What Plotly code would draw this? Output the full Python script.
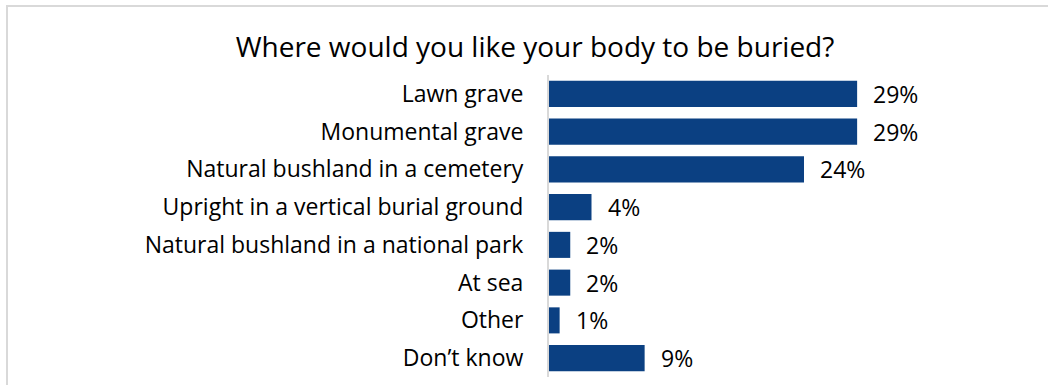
import plotly.graph_objects as go

categories = [
    "Lawn grave",
    "Monumental grave",
    "Natural bushland in a cemetery",
    "Upright in a vertical burial ground",
    "Natural bushland in a national park",
    "At sea",
    "Other",
    "Don\u2019t know",
]
values = [29, 29, 24, 4, 2, 2, 1, 9]
value_labels = [f"{v}%" for v in values]

title_text = "Where would you like your body to be buried?"

W, H = 1048, 385
ML, MR, MT, MB = 549, 74, 75, 8
FONT = "'Open Sans', sans-serif"
BAR_COLOR = "#0B4082"
GRID_GREY = "#D9D9D9"

fig = go.Figure(
    go.Bar(
        y=categories,
        x=values,
        orientation="h",
        marker=dict(color=BAR_COLOR, line=dict(width=0)),
        width=0.69,
        hoverinfo="skip",
    )
)

# value labels just past the end of each bar
for cat, v, lab in zip(categories, values, value_labels):
    fig.add_annotation(
        x=v, y=cat, text=lab, showarrow=False,
        xanchor="left", yanchor="middle", xshift=14,
        font=dict(family=FONT, size=23, color="#000000"),
    )

# light grey frame around the chart (extends past the right and bottom edges)
pw = W - ML - MR
ph = H - MT - MB
def px_to_paper_x(px):
    return (px - ML) / pw
def px_to_paper_y(py):
    return (H - MB - py) / ph

fig.add_shape(
    type="rect", xref="paper", yref="paper",
    x0=px_to_paper_x(7), x1=px_to_paper_x(W + 10),
    y0=px_to_paper_y(H + 10), y1=px_to_paper_y(6),
    line=dict(color=GRID_GREY, width=2), fillcolor="rgba(0,0,0,0)", layer="below",
)

fig.update_layout(
    width=W, height=H,
    margin=dict(l=ML, r=MR, t=MT, b=MB, pad=0),
    paper_bgcolor="white", plot_bgcolor="white",
    showlegend=False,
    title=dict(
        text=title_text, x=535 / W, xref="container", xanchor="center",
        y=1 - 47 / H, yref="container", yanchor="middle",
        font=dict(family=FONT, size=28, color="#000000"),
    ),
    xaxis=dict(range=[0, 40], visible=False, fixedrange=True),
    yaxis=dict(
        autorange="reversed",
        showline=True, linecolor=GRID_GREY, linewidth=2,
        ticks="", ticklabelstandoff=19,
        tickfont=dict(family=FONT, size=23, color="#000000"),
        showgrid=False, zeroline=False, fixedrange=True,
    ),
    bargap=0.31,
)

fig.write_html("out.html")
